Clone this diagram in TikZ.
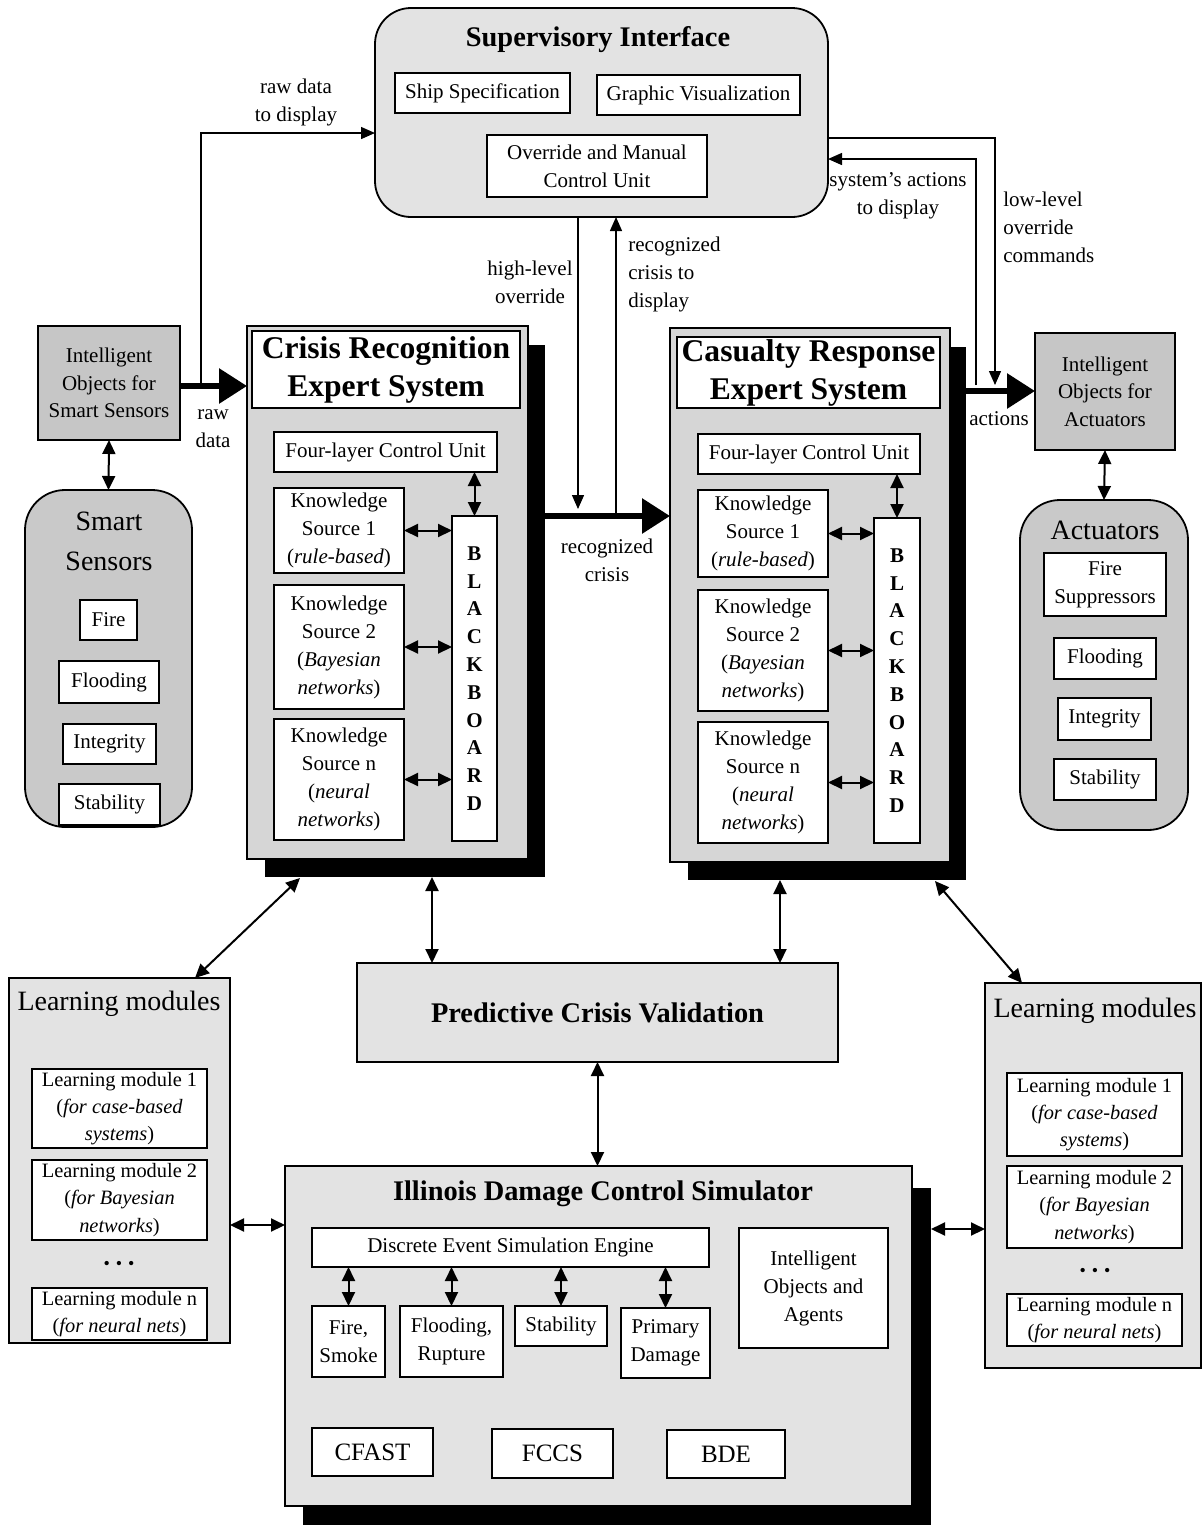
\documentclass[tikz,border=0pt]{standalone}
\usepackage{fontspec}
\setmainfont{Liberation Serif}
\usetikzlibrary{arrows.meta,calc}
\tikzset{
  rectat/.style n args={4}{at={({(#1+#3)/2},{(#2+#4)/2})}, minimum width={(#3-#1)*0.5pt}, minimum height={(#4-#2)*0.5pt}},
  base/.style={font=\fontsize{10.5}{14}\selectfont},
  small/.style={font=\fontsize{10.2}{13.6}\selectfont},
  wbox/.style={draw, line width=0.9pt, fill=white, inner sep=0pt, outer sep=0pt, align=center, base},
  gbox/.style={draw, line width=0.9pt, fill=gray!22, inner sep=0pt, outer sep=0pt},
  mbox/.style={draw, line width=0.9pt, fill=gray!32, inner sep=0pt, outer sep=0pt},
  dbox/.style={draw, line width=0.9pt, fill=gray!45, inner sep=0pt, outer sep=0pt, align=center, font=\fontsize{10.5}{13.8}\selectfont},
  rbox/.style={draw, line width=0.9pt, fill=gray!42, inner sep=0pt, outer sep=0pt, rounded corners=20pt},
  shadowbox/.style={fill=black, inner sep=0pt, outer sep=0pt},
  bigtitle/.style={font=\fontsize{15.8}{19}\selectfont\bfseries, align=center},
  title/.style={font=\fontsize{14.2}{18}\selectfont\bfseries, align=center, inner sep=0pt},
  rtitle/.style={font=\fontsize{14}{20}\selectfont, align=center, inner sep=0pt},
  bbfont/.style={font=\fontsize{10.5}{13.9}\selectfont\bfseries},
  codefont/.style={font=\fontsize{12.5}{15}\selectfont},
  lbl/.style={base, align=center, inner sep=0pt},
  dots/.style={font=\fontsize{9}{10}\selectfont, inner sep=0pt},
  dbl/.style={{Triangle[length=7pt,width=6.5pt]}-{Triangle[length=7pt,width=6.5pt]}, line width=1pt},
  arr/.style={-{Triangle[length=7pt,width=6pt]}, line width=0.7pt},
  fat/.style={-{Triangle[length=14pt,width=17pt]}, line width=3pt},
}
\begin{document}
\begin{tikzpicture}[x=0.5pt,y=-0.5pt]
\useasboundingbox (0,0) rectangle (1201,1528);

% ---------------- Supervisory interface ----------------
\node[draw, line width=0.9pt, fill=gray!22, rounded corners=18pt, inner sep=0pt, outer sep=0pt, rectat={375}{8}{828}{217}] (super) {};
\node[title] (supt) at (598,40) {Supervisory Interface};
\node[wbox, rectat={395}{73}{570}{113}] (ship) {Ship Specification};
\node[wbox, rectat={597}{75}{800}{115}] (graph) {Graphic Visualization};
\node[wbox, rectat={487}{135}{707}{197}] (ovr) {Override and Manual\\Control Unit};

% ---------------- Smart sensors ----------------
\node[dbox, rectat={38}{326}{180}{440}] (ios) {Intelligent\\Objects for\\Smart Sensors};
\node[rbox, rectat={25}{490}{192}{827}] (sens) {};
\node[rtitle] (senst) at (109,541) {Smart\\Sensors};
\node[wbox, rectat={80}{600}{137}{640}] (sfire) {Fire};
\node[wbox, rectat={59}{661}{159}{703}] (sflood) {Flooding};
\node[wbox, rectat={63}{724}{156}{764}] (sint) {Integrity};
\node[wbox, rectat={59}{784}{160}{825}] (sstab) {Stability};

% ---------------- Crisis recognition ----------------
\node[shadowbox, rectat={265}{345}{545}{877}] (crsh) {};
\node[mbox, rectat={247}{326}{528}{859}] (crisis) {};
\node[wbox, bigtitle, rectat={252}{331}{520}{408}] (crt) {Crisis Recognition\\Expert System};
\node[wbox, rectat={274}{432}{497}{472}] (flc1) {Four-layer Control Unit};
\node[wbox, rectat={274}{488}{404}{573}] (ksa1) {Knowledge\\Source 1\\(\textit{rule-based})};
\node[wbox, rectat={274}{585}{404}{709}] (ksa2) {Knowledge\\Source 2\\(\textit{Bayesian}\\\textit{networks})};
\node[wbox, rectat={274}{719}{404}{840}] (ksan) {Knowledge\\Source n\\(\textit{neural}\\\textit{networks})};
\node[wbox, bbfont, rectat={452}{516}{497}{841}] (bba) {B\\L\\A\\C\\K\\B\\O\\A\\R\\D};

% ---------------- Casualty response ----------------
\node[shadowbox, rectat={688}{347}{966}{880}] (cash) {};
\node[mbox, rectat={670}{328}{950}{862}] (cas) {};
\node[wbox, bigtitle, rectat={677}{337}{940}{408}] (cast) {Casualty Response\\Expert System};
\node[wbox, rectat={698}{434}{920}{474}] (flc2) {Four-layer Control Unit};
\node[wbox, rectat={698}{490}{828}{577}] (ksb1) {Knowledge\\Source 1\\(\textit{rule-based})};
\node[wbox, rectat={698}{590}{828}{711}] (ksb2) {Knowledge\\Source 2\\(\textit{Bayesian}\\\textit{networks})};
\node[wbox, rectat={698}{722}{828}{843}] (ksbn) {Knowledge\\Source n\\(\textit{neural}\\\textit{networks})};
\node[wbox, bbfont, rectat={874}{518}{920}{843}] (bbb) {B\\L\\A\\C\\K\\B\\O\\A\\R\\D};

% ---------------- Actuators ----------------
\node[dbox, rectat={1035}{333}{1175}{450}] (aio) {Intelligent\\Objects for\\Actuators};
\node[rbox, rectat={1020}{500}{1188}{830}] (act) {};
\node[rtitle] (actt) at (1105,530) {Actuators};
\node[wbox, rectat={1044}{553}{1166}{616}] (afire) {Fire\\Suppressors};
\node[wbox, rectat={1054}{638}{1156}{679}] (aflood) {Flooding};
\node[wbox, rectat={1058}{698}{1151}{740}] (aint) {Integrity};
\node[wbox, rectat={1054}{759}{1156}{800}] (astab) {Stability};

% ---------------- Predictive crisis validation ----------------
\node[gbox, title, rectat={357}{963}{838}{1062}] (pred) {Predictive Crisis Validation};

% ---------------- Learning modules (left) ----------------
\node[gbox, rectat={9}{978}{230}{1343}] (lml) {};
\node[rtitle] (lmlt) at (119,1004) {Learning modules};
\node[wbox, small, rectat={32}{1069}{207}{1148}] (lml1) {Learning module 1\\(\textit{for case-based}\\\textit{systems})};
\node[wbox, small, rectat={32}{1160}{207}{1240}] (lml2) {Learning module 2\\(\textit{for Bayesian}\\\textit{networks})};
\node[dots] (lmld) at (119,1265) {\textbullet\hspace{3pt}\textbullet\hspace{3pt}\textbullet};
\node[wbox, small, rectat={32}{1288}{207}{1340}] (lmln) {Learning module n\\(\textit{for neural nets})};

% ---------------- Learning modules (right) ----------------
\node[gbox, rectat={985}{983}{1201}{1368}] (lmr) {};
\node[rtitle] (lmrt) at (1095,1011) {Learning modules};
\node[wbox, small, rectat={1007}{1073}{1182}{1156}] (lmr1) {Learning module 1\\(\textit{for case-based}\\\textit{systems})};
\node[wbox, small, rectat={1007}{1166}{1182}{1248}] (lmr2) {Learning module 2\\(\textit{for Bayesian}\\\textit{networks})};
\node[dots] (lmrd) at (1095,1272) {\textbullet\hspace{3pt}\textbullet\hspace{3pt}\textbullet};
\node[wbox, small, rectat={1007}{1294}{1182}{1346}] (lmrn) {Learning module n\\(\textit{for neural nets})};

% ---------------- Illinois damage control simulator ----------------
\node[shadowbox, rectat={303}{1188}{931}{1525}] (illsh) {};
\node[gbox, rectat={285}{1166}{912}{1506}] (ill) {};
\node[title] (illt) at (603,1194) {Illinois Damage Control Simulator};
\node[wbox, rectat={312}{1228}{709}{1267}] (dese) {Discrete Event Simulation Engine};
\node[wbox, rectat={739}{1228}{888}{1348}] (ioa) {Intelligent\\Objects and\\Agents};
\node[wbox, rectat={312}{1306}{385}{1377}] (mfire) {Fire,\\Smoke};
\node[wbox, rectat={400}{1306}{503}{1377}] (mflood) {Flooding,\\Rupture};
\node[wbox, rectat={515}{1306}{607}{1346}] (mstab) {Stability};
\node[wbox, rectat={621}{1308}{710}{1378}] (mprim) {Primary\\Damage};
\node[wbox, codefont, rectat={312}{1428}{433}{1476}] (cfast) {CFAST};
\node[wbox, codefont, rectat={492}{1429}{613}{1478}] (fccs) {FCCS};
\node[wbox, codefont, rectat={667}{1430}{785}{1478}] (bde) {BDE};

% ---------------- coordinates for connector ends ----------------
\coordinate (rd) at (201,386);
\coordinate (rdtop) at (201,133);
\coordinate (rc0) at (545,516);
\coordinate (ho) at (578,509);
\coordinate (rcd) at (616,513);
\coordinate (ac0) at (966,391);
\coordinate (sa) at (976,385);
\coordinate (satop) at (976,159);
\coordinate (ll) at (995,385);
\coordinate (lltop) at (995,138);
\coordinate (cp1) at (432,877);
\coordinate (cp2) at (780,880);
\coordinate (cd1) at (300,878);
\coordinate (ld1) at (195,978);
\coordinate (cd2) at (935,881);
\coordinate (ld2) at (1022,983);
\coordinate (la) at (230,1225);
\coordinate (ra) at (931,1229);

% ---------------- connectors ----------------
\draw[fat] (ios.east |- rd) -- (rd -| crisis.west);
\draw[arr] (rd) -- (rdtop) -- (rdtop -| super.west);
\draw[dbl] (ios.south) -- (sens.north);

\draw[fat] (rc0) -- (rc0 -| cas.west);
\draw[arr] (ho |- super.south) -- (ho);
\draw[arr] (rcd) -- (rcd |- super.south);

\draw[fat] (ac0) -- (ac0 -| aio.west);
\draw[arr] (sa) -- (satop) -- (satop -| super.east);
\draw[arr] (lltop -| super.east) -- (lltop) -- (ll);
\draw[dbl] (aio.south) -- (act.north);

\draw[dbl] (bba.north) -- (bba.north |- flc1.south);
\draw[dbl] (ksa1.east) -- (ksa1.east -| bba.west);
\draw[dbl] (ksa2.east) -- (ksa2.east -| bba.west);
\draw[dbl] (ksan.east) -- (ksan.east -| bba.west);
\draw[dbl] (bbb.north) -- (bbb.north |- flc2.south);
\draw[dbl] (ksb1.east) -- (ksb1.east -| bbb.west);
\draw[dbl] (ksb2.east) -- (ksb2.east -| bbb.west);
\draw[dbl] (ksbn.east) -- (ksbn.east -| bbb.west);

\draw[dbl] (cp1) -- (cp1 |- pred.north);
\draw[dbl] (cp2) -- (cp2 |- pred.north);
\draw[dbl] (pred.south) -- (pred.south |- ill.north);
\draw[dbl] (cd1) -- (ld1);
\draw[dbl] (cd2) -- (ld2);
\draw[dbl] (la) -- (la -| ill.west);
\draw[dbl] (ra) -- (ra -| lmr.west);

\draw[dbl] (mfire.north) -- (mfire.north |- dese.south);
\draw[dbl] (mflood.north) -- (mflood.north |- dese.south);
\draw[dbl] (mstab.north) -- (mstab.north |- dese.south);
\draw[dbl] (mprim.north) -- (mprim.north |- dese.south);

% ---------------- connector labels ----------------
\node[lbl] (l1) at (296,102) {raw data\\to display};
\node[lbl] (l2) at (213,429) {raw\\data};
\node[lbl, anchor=east] (l3) at (573,282) {high-level\\override};
\node[lbl, anchor=west, align=left] (l4) at (628,274) {recognized\\crisis to\\display};
\node[lbl] (l5) at (607,560) {recognized\\crisis};
\node[lbl] (l6) at (898,196) {system's actions\\to display};
\node[lbl, anchor=west, align=left] (l7) at (1003,227) {low-level\\override\\commands};
\node[lbl] (l8) at (999,419) {actions};
\end{tikzpicture}
\end{document}
